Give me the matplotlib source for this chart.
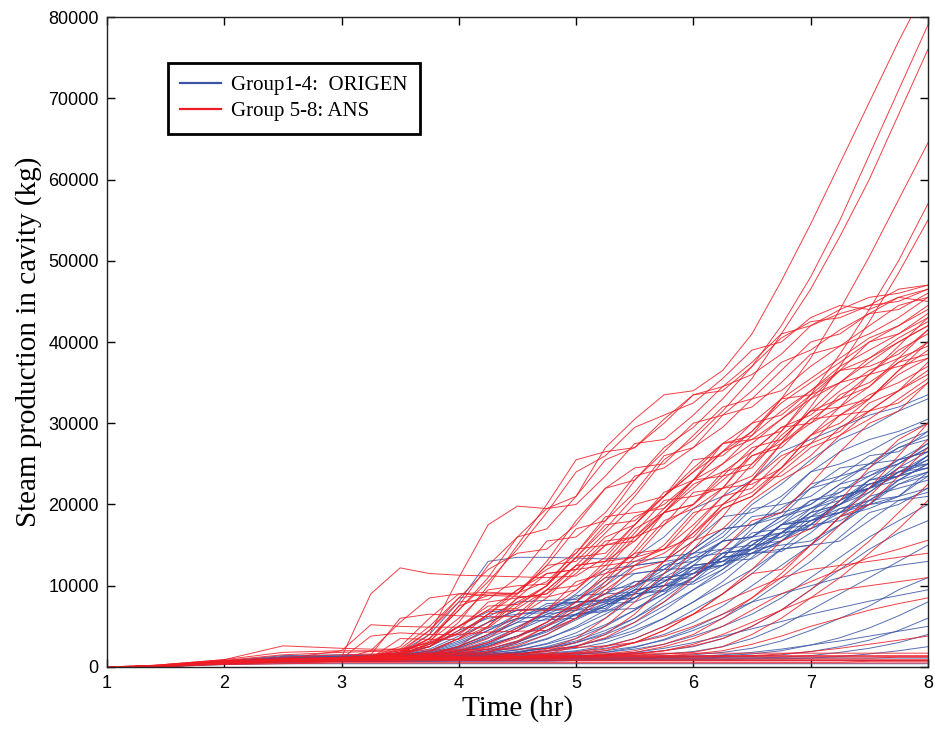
import numpy as np
import matplotlib
matplotlib.use("Agg")
import matplotlib.pyplot as plt

# time grid (hr) shared by every curve
time_hr = [1, 1.4, 2, 2.5, 3, 3.25, 3.5, 3.75, 4, 4.25, 4.5, 4.75, 5, 5.25,
           5.5, 5.75, 6, 6.25, 6.5, 6.75, 7, 7.25, 7.5, 7.75, 8]

# steam production, thousands of kg
ans_curves = [
    [0, 0.1, 0.7, 0.9, 1.0, 1.1, 1.5, 4.0, 11.0, 17.5, 19.8, 19.5, 21.0, 27.0, 30.5, 33.5, 34.0, 36.5, 41.0, 47.5, 54.5, 62.0, 69.5, 77.0, 84.0],
    [0, 0.1, 0.6, 0.9, 1.0, 1.1, 1.3, 1.8, 3.5, 6.5, 9.5, 12.0, 14.0, 18.0, 23.0, 27.0, 29.5, 33.0, 37.0, 42.0, 48.0, 55.0, 63.0, 71.0, 79.0],
    [0, 0.1, 0.7, 0.8, 1.0, 1.0, 1.2, 1.5, 2.5, 5.0, 8.0, 10.0, 13.5, 17.0, 21.0, 25.5, 28.0, 31.5, 35.5, 41.0, 46.5, 53.0, 60.0, 68.0, 76.0],
    [0, 0.1, 0.5, 0.8, 0.9, 1.0, 1.1, 1.2, 1.3, 1.8, 3.0, 5.0, 7.0, 10.5, 14.5, 19.0, 22.0, 25.0, 28.5, 33.0, 38.0, 44.0, 50.5, 57.5, 64.5],
    [0, 0.1, 0.6, 0.8, 0.9, 0.9, 1.0, 1.0, 1.1, 1.2, 1.5, 2.2, 3.5, 6.0, 9.0, 13.0, 17.0, 21.0, 25.0, 29.0, 33.5, 38.5, 44.0, 50.0, 57.0],
    [0, 0.0, 0.5, 0.7, 0.8, 0.9, 0.9, 1.0, 1.0, 1.1, 1.2, 1.6, 2.5, 4.0, 6.5, 10.0, 14.5, 18.5, 23.0, 27.5, 32.0, 37.0, 42.5, 48.5, 55.0],
    [0, 0.1, 0.7, 1.0, 1.2, 9.0, 12.2, 11.5, 11.3, 11.2, 11.1, 11.0, 11.2, 13.5, 17.5, 21.0, 24.0, 27.5, 30.0, 33.0, 35.5, 38.0, 40.5, 42.0, 44.0],
    [0, 0.2, 0.9, 2.6, 2.3, 2.2, 2.2, 2.5, 4.5, 8.0, 8.5, 9.0, 12.5, 16.0, 17.5, 21.0, 24.0, 26.5, 29.0, 32.5, 35.0, 37.5, 40.0, 42.0, 44.5],
    [0, 0.1, 0.7, 1.0, 2.0, 5.2, 5.0, 4.9, 4.9, 4.8, 7.5, 10.0, 13.5, 14.0, 17.5, 21.5, 23.0, 26.5, 30.0, 31.0, 34.0, 37.0, 39.0, 41.0, 43.0],
    [0, 0.1, 0.6, 0.9, 1.1, 1.5, 6.0, 6.5, 6.3, 6.2, 6.2, 8.5, 12.0, 15.5, 16.0, 19.5, 23.0, 25.0, 27.5, 30.5, 33.0, 35.0, 37.5, 40.0, 42.0],
    [0, 0.1, 0.7, 0.9, 1.1, 1.3, 2.5, 6.0, 9.0, 9.2, 9.0, 13.0, 18.0, 22.0, 23.0, 26.5, 30.0, 31.0, 34.0, 37.5, 39.0, 41.5, 43.5, 44.0, 46.0],
    [0, 0.1, 0.6, 0.9, 1.0, 1.2, 1.8, 4.5, 8.5, 12.0, 14.0, 14.5, 17.5, 22.0, 24.5, 25.0, 28.5, 32.0, 33.0, 36.5, 40.0, 41.0, 43.5, 45.5, 45.0],
    [0, 0.1, 0.7, 0.9, 1.0, 1.1, 1.6, 3.5, 7.0, 11.0, 16.0, 19.5, 20.0, 23.5, 27.5, 28.0, 31.0, 34.5, 36.0, 38.5, 42.0, 43.5, 44.5, 46.5, 47.0],
    [0, 0.1, 0.6, 0.8, 1.0, 1.1, 1.4, 2.5, 5.5, 10.0, 15.0, 20.0, 25.5, 26.5, 27.0, 30.5, 33.5, 34.0, 37.0, 40.5, 42.5, 43.0, 44.5, 45.0, 46.5],
    [0, 0.1, 0.7, 0.9, 1.1, 1.2, 1.5, 2.5, 5.0, 7.0, 7.2, 9.5, 12.5, 13.0, 15.5, 19.0, 20.0, 23.0, 26.0, 27.0, 30.5, 33.0, 34.5, 37.5, 40.0],
    [0, 0.1, 0.6, 0.9, 1.0, 1.1, 1.3, 1.6, 2.2, 3.5, 6.0, 9.5, 10.0, 12.0, 16.0, 17.5, 20.0, 24.0, 25.0, 28.0, 31.5, 33.0, 36.0, 39.0, 41.0],
    [0, 0.1, 0.6, 0.8, 1.0, 1.0, 1.2, 1.5, 2.0, 3.0, 4.5, 7.0, 10.5, 11.5, 14.0, 18.0, 19.5, 22.0, 26.0, 27.5, 30.0, 33.5, 35.0, 37.5, 38.5],
    [0, 0.1, 0.7, 0.9, 1.0, 1.1, 1.2, 1.4, 1.8, 2.5, 3.8, 5.5, 8.0, 11.5, 12.5, 15.0, 19.0, 20.0, 23.0, 26.0, 27.5, 31.0, 33.5, 35.0, 37.0],
    [0, 0.1, 0.5, 0.8, 0.9, 1.0, 1.1, 1.3, 1.6, 2.2, 3.2, 5.0, 7.5, 9.0, 12.5, 14.0, 16.5, 20.0, 21.5, 24.5, 27.5, 29.0, 32.5, 34.0, 36.0],
    [0, 0.1, 0.6, 0.9, 1.0, 1.1, 1.2, 1.3, 1.5, 1.9, 2.6, 4.0, 6.0, 8.5, 10.0, 13.0, 15.5, 17.0, 20.5, 23.0, 25.0, 28.5, 30.5, 33.0, 35.5],
    [0, 0.1, 0.7, 0.9, 1.1, 1.3, 1.8, 3.5, 7.5, 8.8, 9.0, 12.5, 17.0, 18.0, 21.5, 26.0, 27.0, 29.5, 33.0, 34.0, 37.0, 39.5, 41.0, 43.0, 45.5],
    [0, 0.1, 0.6, 0.9, 1.0, 3.8, 4.2, 4.0, 4.0, 6.5, 9.0, 12.5, 13.0, 16.5, 20.0, 21.0, 24.5, 27.5, 28.5, 31.5, 34.0, 36.5, 38.0, 40.5, 42.5],
    [0, 0.1, 0.7, 0.9, 1.0, 1.1, 3.5, 3.4, 3.4, 5.0, 8.5, 9.0, 11.5, 15.0, 16.0, 19.0, 22.5, 24.0, 26.5, 29.5, 31.0, 34.0, 36.5, 38.0, 41.5],
    [0, 0.1, 0.6, 0.9, 1.0, 1.1, 1.4, 3.0, 7.5, 12.5, 16.0, 17.0, 21.0, 25.5, 27.0, 30.0, 33.5, 34.5, 37.5, 41.0, 42.0, 44.0, 45.5, 46.0, 47.0],
    [0, 0.1, 0.6, 0.8, 1.0, 1.2, 1.6, 3.5, 7.0, 10.5, 14.5, 19.0, 24.0, 26.0, 29.5, 31.0, 32.5, 35.5, 39.0, 40.0, 43.0, 44.5, 44.0, 45.5, 46.5],
    [0, 0.1, 0.5, 0.8, 0.9, 0.9, 1.0, 1.0, 1.1, 1.1, 1.2, 1.3, 1.4, 1.6, 2.0, 2.8, 4.0, 6.0, 8.5, 11.5, 15.0, 18.5, 22.0, 26.0, 30.0],
    [0, 0.1, 0.5, 0.7, 0.8, 0.9, 0.9, 1.0, 1.0, 1.1, 1.1, 1.2, 1.3, 1.4, 1.6, 2.0, 2.6, 3.5, 5.0, 7.0, 9.5, 12.5, 15.5, 19.0, 22.5],
    [0, 0.1, 0.6, 0.8, 0.9, 0.9, 1.0, 1.0, 1.1, 1.1, 1.2, 1.2, 1.3, 1.5, 1.8, 2.5, 3.5, 5.0, 7.0, 9.0, 10.5, 12.0, 13.5, 14.5, 15.6],
    [0, 0.1, 0.5, 0.8, 0.9, 1.0, 1.0, 1.1, 1.1, 1.2, 1.3, 1.5, 1.8, 2.5, 3.5, 5.0, 6.5, 8.0, 9.5, 11.0, 12.0, 12.5, 13.0, 13.5, 14.0],
    [0, 0.1, 0.6, 0.8, 0.9, 1.0, 1.0, 1.0, 1.1, 1.1, 1.2, 1.2, 1.3, 1.4, 1.6, 2.0, 2.8, 4.0, 5.5, 7.0, 8.5, 9.5, 10.0, 10.5, 11.0],
    [0, 0.1, 0.5, 0.7, 0.8, 0.9, 0.9, 1.0, 1.0, 1.0, 1.1, 1.1, 1.2, 1.2, 1.3, 1.4, 1.6, 2.0, 2.8, 3.8, 5.0, 6.0, 7.0, 7.8, 8.5],
    [0, 0.1, 0.5, 0.7, 0.8, 0.8, 0.9, 0.9, 0.9, 1.0, 1.0, 1.0, 1.1, 1.1, 1.1, 1.2, 1.2, 1.3, 1.4, 1.6, 1.9, 2.3, 2.8, 3.3, 3.8],
    [0, 0.1, 0.7, 0.9, 1.0, 1.1, 1.1, 1.2, 1.2, 1.2, 1.2, 1.3, 1.3, 1.3, 1.3, 1.3, 1.3, 1.3, 1.3, 1.3, 1.3, 1.3, 1.3, 1.3, 1.3],
    [0, 0.1, 0.5, 0.7, 0.8, 0.8, 0.8, 0.9, 0.9, 0.9, 0.9, 0.9, 0.9, 0.9, 0.9, 0.9, 0.9, 0.9, 0.9, 0.9, 0.9, 0.9, 0.9, 0.9, 0.9],
    [0, 0.0, 0.4, 0.5, 0.6, 0.6, 0.6, 0.6, 0.6, 0.6, 0.6, 0.6, 0.6, 0.6, 0.6, 0.6, 0.6, 0.6, 0.6, 0.6, 0.6, 0.6, 0.7, 0.7, 0.7],
    [0, 0.1, 0.6, 0.8, 0.9, 1.0, 1.0, 1.1, 1.1, 1.2, 1.2, 1.3, 1.3, 1.4, 1.5, 1.6, 1.8, 2.5, 4.0, 6.0, 8.5, 11.0, 14.0, 17.0, 20.5],
    [0, 0.1, 0.6, 0.9, 1.0, 1.0, 1.1, 1.1, 1.2, 1.2, 1.3, 1.4, 1.6, 2.0, 3.0, 4.5, 6.5, 9.0, 11.5, 12.0, 15.0, 18.5, 20.0, 23.5, 27.0],
    [0, 0.1, 0.7, 0.9, 1.1, 1.4, 2.0, 3.0, 4.0, 4.3, 4.4, 4.5, 6.0, 9.5, 12.0, 13.0, 16.5, 19.5, 21.0, 24.0, 27.0, 28.5, 31.5, 34.0, 36.5],
    [0, 0.1, 0.6, 0.9, 1.0, 1.2, 1.6, 2.8, 4.2, 6.5, 7.0, 7.0, 7.2, 10.0, 13.5, 14.5, 17.5, 21.0, 22.0, 25.5, 28.5, 30.0, 33.0, 36.0, 38.0],
    [0, 0.2, 0.9, 1.8, 2.0, 2.0, 2.2, 3.0, 5.0, 7.0, 9.5, 11.5, 12.0, 15.0, 18.5, 20.0, 23.0, 26.5, 28.0, 30.5, 33.5, 35.0, 38.0, 40.0, 42.0],
    [0, 0.1, 0.6, 0.8, 0.9, 1.0, 1.0, 1.1, 1.2, 1.3, 1.5, 2.0, 3.0, 5.0, 8.0, 11.5, 15.5, 19.5, 21.0, 24.5, 28.5, 32.0, 33.0, 36.5, 40.0],
    [0, 0.1, 0.6, 0.9, 1.0, 1.0, 1.1, 1.2, 1.3, 1.4, 1.6, 1.9, 2.5, 3.6, 5.5, 8.0, 11.0, 14.5, 18.0, 19.0, 22.5, 26.5, 30.0, 31.5, 35.0],
    [0, 0.1, 0.5, 0.8, 0.9, 1.0, 1.0, 1.1, 1.1, 1.2, 1.3, 1.4, 1.7, 2.2, 3.0, 4.5, 6.5, 9.0, 12.0, 15.5, 17.0, 20.5, 24.5, 28.0, 30.0],
    [0, 0.1, 0.7, 0.9, 1.0, 2.0, 5.5, 8.5, 9.0, 8.8, 8.7, 8.6, 9.5, 13.0, 17.0, 19.0, 20.0, 23.5, 27.0, 28.0, 31.5, 35.0, 36.0, 39.5, 43.0],
    [0, 0.2, 0.8, 1.2, 1.5, 1.6, 1.6, 1.7, 1.7, 1.7, 1.7, 1.7, 1.7, 1.7, 1.7, 1.7, 1.7, 1.7, 1.7, 1.7, 1.7, 1.7, 1.7, 1.7, 1.7],
    [0, 0.1, 0.6, 1.0, 1.2, 1.2, 1.3, 1.4, 1.5, 1.5, 1.5, 1.5, 1.4, 1.4, 1.4, 1.4, 1.4, 1.4, 1.4, 1.4, 1.4, 1.4, 1.4, 1.4, 1.4],
    [0, 0.1, 0.5, 0.8, 1.0, 1.0, 1.0, 1.1, 1.1, 1.1, 1.1, 1.1, 1.1, 1.1, 1.1, 1.1, 1.1, 1.1, 1.1, 1.1, 1.1, 1.1, 1.1, 1.2, 1.2],
    [0, 0.0, 0.4, 0.6, 0.7, 0.7, 0.7, 0.8, 0.8, 0.8, 0.8, 0.8, 0.8, 0.8, 0.8, 0.8, 0.8, 0.8, 0.8, 0.8, 0.8, 0.8, 0.8, 0.8, 0.8],
    [0, 0.0, 0.3, 0.4, 0.5, 0.5, 0.5, 0.5, 0.5, 0.5, 0.5, 0.5, 0.5, 0.5, 0.5, 0.5, 0.5, 0.5, 0.5, 0.5, 0.5, 0.5, 0.5, 0.5, 0.5],
    [0, 0.1, 0.8, 1.5, 1.8, 1.9, 2.0, 2.1, 2.1, 2.2, 2.2, 2.3, 2.4, 2.6, 3.0, 3.8, 5.0, 6.5, 8.5, 11.0, 14.0, 17.5, 21.0, 24.5, 28.0],
    [0, 0.1, 0.7, 1.0, 1.1, 1.3, 2.0, 4.5, 8.0, 8.3, 11.0, 15.5, 16.0, 19.0, 23.5, 24.5, 27.0, 31.0, 32.0, 35.0, 38.5, 39.5, 42.0, 44.5, 45.5],
    [0, 0.1, 0.6, 0.9, 1.0, 1.2, 1.7, 3.2, 6.0, 9.5, 10.0, 10.2, 13.5, 17.5, 18.0, 21.0, 25.5, 26.0, 29.0, 33.0, 33.5, 36.5, 40.0, 41.0, 43.5],
    [0, 0.1, 0.7, 0.9, 1.1, 1.3, 2.2, 5.0, 8.5, 9.0, 9.1, 10.5, 14.0, 18.5, 19.0, 19.5, 23.0, 27.5, 28.0, 29.0, 33.0, 36.5, 37.0, 38.5, 41.5],
    [0, 0.1, 0.6, 0.9, 1.0, 1.1, 1.5, 2.8, 5.0, 7.5, 7.7, 10.0, 14.5, 15.0, 15.5, 19.0, 23.0, 23.5, 24.5, 28.5, 31.5, 32.0, 34.5, 38.0, 39.5],
    [0, 0.1, 0.7, 0.9, 1.0, 1.1, 1.3, 2.0, 3.5, 5.5, 8.5, 11.5, 12.0, 12.5, 16.5, 20.5, 21.0, 22.0, 26.5, 29.5, 30.0, 32.0, 36.0, 37.0, 38.0],
    [0, 0.1, 0.6, 0.8, 1.0, 1.1, 1.2, 1.6, 2.5, 4.0, 6.5, 9.5, 12.5, 13.0, 13.5, 17.5, 21.5, 22.0, 23.5, 27.5, 30.5, 31.0, 33.0, 36.5, 39.0],
    [0, 0.1, 0.7, 0.9, 1.0, 1.1, 1.2, 1.5, 2.0, 3.0, 4.8, 7.0, 9.5, 12.5, 13.0, 14.5, 18.5, 22.0, 22.5, 24.5, 28.5, 31.0, 31.5, 34.0, 37.5],
    [0, 0.1, 0.6, 0.8, 0.9, 1.0, 1.1, 1.3, 1.7, 2.4, 3.6, 5.5, 8.0, 11.0, 14.0, 14.5, 16.0, 20.0, 23.0, 23.5, 26.0, 29.5, 31.5, 32.5, 35.0],
]

origen_curves = [
    [0, 0.1, 0.7, 1.2, 1.3, 1.4, 1.8, 4.0, 8.0, 13.0, 13.5, 13.5, 13.4, 13.3, 13.5, 16.0, 19.5, 21.0, 23.0, 26.5, 28.0, 29.5, 31.0, 32.0, 33.5],
    [0, 0.1, 0.7, 1.4, 1.5, 1.5, 1.7, 2.5, 4.5, 6.0, 6.5, 6.7, 9.0, 12.0, 12.5, 13.0, 15.5, 18.5, 19.0, 21.0, 24.0, 25.0, 26.5, 28.5, 30.0],
    [0, 0.1, 0.6, 1.3, 1.4, 1.4, 1.5, 2.0, 3.5, 5.5, 7.0, 7.2, 7.3, 9.0, 11.5, 12.0, 14.5, 17.0, 17.5, 19.5, 22.0, 23.0, 25.0, 27.0, 28.0],
    [0, 0.1, 0.7, 1.0, 1.2, 1.3, 1.4, 1.8, 2.8, 4.5, 6.5, 7.0, 7.0, 8.0, 10.5, 11.0, 13.0, 15.5, 16.0, 18.0, 20.5, 21.5, 23.5, 25.5, 26.5],
    [0, 0.1, 0.6, 0.9, 1.1, 1.2, 1.3, 1.6, 2.3, 3.8, 5.5, 7.5, 8.0, 8.2, 10.0, 12.5, 13.0, 14.5, 17.5, 18.5, 20.0, 22.5, 23.5, 25.0, 27.5],
    [0, 0.1, 0.7, 1.1, 1.3, 1.3, 1.4, 1.7, 2.5, 4.0, 5.5, 5.8, 6.0, 7.5, 9.5, 10.0, 11.5, 14.0, 14.5, 16.5, 19.0, 20.0, 22.0, 24.0, 25.0],
    [0, 0.1, 0.6, 0.9, 1.0, 1.1, 1.2, 1.5, 2.0, 3.0, 4.5, 6.0, 6.5, 6.8, 8.5, 11.0, 11.5, 13.0, 15.5, 16.5, 18.5, 21.0, 22.0, 23.5, 24.5],
    [0, 0.1, 0.7, 1.0, 1.2, 1.2, 1.3, 1.5, 1.9, 2.6, 3.8, 5.5, 7.5, 8.0, 8.5, 10.5, 12.5, 13.0, 15.0, 17.5, 18.5, 20.0, 22.5, 23.5, 25.5],
    [0, 0.1, 0.6, 0.9, 1.1, 1.1, 1.2, 1.4, 1.7, 2.2, 3.2, 4.5, 6.5, 8.5, 9.0, 9.5, 11.5, 14.0, 14.5, 16.0, 19.0, 20.0, 21.5, 24.0, 26.0],
    [0, 0.1, 0.7, 1.0, 1.1, 1.2, 1.3, 1.4, 1.6, 2.0, 2.8, 4.0, 5.8, 7.5, 9.0, 9.3, 11.0, 13.5, 14.0, 15.5, 18.0, 19.5, 20.5, 22.5, 23.5],
    [0, 0.1, 0.6, 0.9, 1.0, 1.1, 1.2, 1.3, 1.5, 1.8, 2.4, 3.4, 5.0, 7.0, 9.5, 10.0, 10.5, 12.5, 15.5, 16.0, 17.5, 20.5, 22.0, 23.0, 25.0],
    [0, 0.1, 0.7, 1.0, 1.1, 1.2, 1.2, 1.3, 1.4, 1.7, 2.1, 2.9, 4.2, 6.0, 8.5, 11.0, 11.5, 12.5, 15.0, 17.5, 18.0, 20.0, 23.0, 24.0, 25.5],
    [0, 0.1, 0.5, 0.9, 1.0, 1.0, 1.1, 1.2, 1.3, 1.5, 1.9, 2.5, 3.5, 5.0, 7.0, 9.5, 12.5, 13.0, 14.5, 17.5, 19.5, 20.5, 23.0, 25.5, 26.5],
    [0, 0.1, 0.7, 1.0, 1.1, 1.1, 1.2, 1.3, 1.4, 1.6, 1.8, 2.3, 3.0, 4.2, 6.0, 8.5, 11.0, 14.0, 14.5, 16.5, 19.5, 21.0, 22.0, 25.0, 27.0],
    [0, 0.1, 0.6, 0.9, 1.0, 1.1, 1.1, 1.2, 1.3, 1.4, 1.7, 2.0, 2.6, 3.5, 5.0, 7.0, 9.5, 12.0, 15.0, 15.5, 17.5, 20.5, 22.5, 23.5, 26.0],
    [0, 0.1, 0.7, 1.0, 1.1, 1.2, 1.2, 1.3, 1.3, 1.5, 1.6, 1.9, 2.3, 3.0, 4.2, 6.0, 8.0, 10.5, 13.5, 16.5, 17.0, 19.0, 22.0, 24.5, 25.0],
    [0, 0.1, 0.6, 0.9, 1.0, 1.0, 1.1, 1.2, 1.2, 1.3, 1.5, 1.7, 2.0, 2.6, 3.5, 5.0, 7.0, 9.0, 11.5, 14.5, 17.5, 18.0, 20.0, 23.0, 25.0],
    [0, 0.1, 0.7, 1.0, 1.1, 1.1, 1.2, 1.2, 1.3, 1.4, 1.5, 1.6, 1.9, 2.3, 3.0, 4.0, 5.5, 7.5, 10.0, 12.5, 15.0, 18.5, 19.5, 21.0, 24.0],
    [0, 0.1, 0.6, 0.9, 1.0, 1.0, 1.1, 1.1, 1.2, 1.3, 1.4, 1.5, 1.7, 2.0, 2.5, 3.3, 4.5, 6.0, 8.0, 10.5, 13.0, 16.0, 19.0, 20.0, 22.0],
    [0, 0.1, 0.7, 0.9, 1.0, 1.1, 1.1, 1.2, 1.2, 1.3, 1.3, 1.4, 1.6, 1.8, 2.2, 2.8, 3.8, 5.0, 6.5, 8.5, 11.0, 13.5, 16.0, 18.0, 20.0],
    [0, 0.1, 0.6, 0.9, 1.0, 1.1, 1.2, 1.4, 1.8, 2.8, 4.5, 6.5, 7.0, 7.2, 9.5, 12.5, 14.0, 16.5, 20.0, 22.5, 25.5, 28.0, 29.5, 31.5, 33.0],
    [0, 0.1, 0.7, 1.0, 1.1, 1.1, 1.2, 1.3, 1.5, 2.0, 3.0, 4.5, 6.5, 7.0, 7.2, 9.0, 12.5, 15.5, 16.0, 18.5, 22.0, 24.5, 25.0, 27.5, 29.0],
    [0, 0.1, 0.5, 0.8, 0.9, 0.9, 1.0, 1.0, 1.0, 1.1, 1.1, 1.2, 1.2, 1.3, 1.4, 1.6, 1.9, 2.5, 3.5, 5.0, 7.0, 9.0, 11.0, 13.0, 15.0],
    [0, 0.1, 0.5, 0.8, 0.9, 0.9, 0.9, 1.0, 1.0, 1.0, 1.1, 1.1, 1.1, 1.2, 1.2, 1.3, 1.5, 1.8, 2.3, 3.2, 4.5, 6.0, 7.5, 9.5, 11.0],
    [0, 0.1, 0.5, 0.7, 0.8, 0.8, 0.9, 0.9, 0.9, 1.0, 1.0, 1.0, 1.0, 1.1, 1.1, 1.2, 1.3, 1.4, 1.6, 2.0, 2.7, 3.6, 4.8, 6.3, 8.0],
    [0, 0.1, 0.4, 0.7, 0.8, 0.8, 0.8, 0.9, 0.9, 0.9, 0.9, 1.0, 1.0, 1.0, 1.0, 1.1, 1.1, 1.2, 1.3, 1.5, 1.9, 2.5, 3.3, 4.5, 6.0],
    [0, 0.0, 0.4, 0.6, 0.7, 0.7, 0.8, 0.8, 0.8, 0.8, 0.9, 0.9, 0.9, 0.9, 1.0, 1.0, 1.0, 1.1, 1.1, 1.2, 1.4, 1.8, 2.3, 3.0, 4.0],
    [0, 0.0, 0.4, 0.6, 0.7, 0.7, 0.7, 0.7, 0.8, 0.8, 0.8, 0.8, 0.8, 0.9, 0.9, 0.9, 0.9, 0.9, 1.0, 1.0, 1.1, 1.3, 1.6, 2.0, 2.5],
    [0, 0.0, 0.4, 0.6, 0.7, 0.7, 0.7, 0.7, 0.7, 0.7, 0.7, 0.7, 0.8, 0.8, 0.8, 0.8, 0.8, 0.8, 0.8, 0.8, 0.8, 0.8, 0.8, 0.8, 0.8],
    [0, 0.0, 0.3, 0.4, 0.4, 0.4, 0.4, 0.4, 0.4, 0.4, 0.4, 0.4, 0.4, 0.4, 0.4, 0.4, 0.4, 0.4, 0.4, 0.4, 0.4, 0.4, 0.4, 0.4, 0.4],
    [0, 0.1, 0.6, 0.9, 1.0, 1.0, 1.1, 1.1, 1.2, 1.2, 1.3, 1.3, 1.4, 1.5, 1.7, 2.0, 2.5, 3.5, 5.0, 7.0, 9.5, 12.0, 14.5, 16.5, 18.0],
    [0, 0.1, 0.6, 0.8, 0.9, 1.0, 1.0, 1.1, 1.1, 1.2, 1.2, 1.3, 1.5, 1.8, 2.4, 3.4, 4.8, 6.5, 8.0, 9.0, 10.0, 11.0, 11.8, 12.5, 13.0],
    [0, 0.1, 0.7, 1.1, 1.2, 1.2, 1.3, 1.6, 2.4, 3.6, 5.0, 6.5, 8.0, 8.3, 8.5, 10.0, 12.0, 12.5, 14.0, 16.5, 17.0, 18.5, 21.0, 22.0, 23.0],
    [0, 0.1, 0.6, 1.0, 1.1, 1.2, 1.4, 2.0, 3.2, 4.8, 6.0, 6.2, 7.5, 9.5, 10.0, 11.5, 13.5, 14.0, 16.0, 18.5, 19.5, 21.5, 24.0, 25.0, 27.0],
    [0, 0.1, 0.7, 1.0, 1.1, 1.2, 1.3, 1.5, 2.0, 2.8, 3.8, 5.0, 6.5, 7.8, 8.0, 9.5, 12.0, 13.5, 14.0, 15.5, 18.0, 19.0, 20.5, 23.0, 24.0],
    [0, 0.1, 0.6, 1.0, 1.2, 1.3, 1.5, 2.2, 3.8, 5.5, 7.0, 7.2, 8.5, 11.0, 11.5, 12.0, 14.5, 17.0, 17.5, 19.0, 22.5, 23.5, 24.5, 27.0, 28.5],
    [0, 0.1, 0.7, 1.1, 1.3, 1.3, 1.6, 2.8, 5.0, 6.8, 7.0, 7.1, 8.0, 10.5, 13.0, 13.5, 14.0, 16.0, 19.5, 20.0, 21.0, 23.5, 26.0, 26.5, 29.0],
    [0, 0.1, 0.6, 0.9, 1.1, 1.2, 1.3, 1.7, 2.6, 4.0, 5.8, 7.8, 8.0, 8.1, 9.0, 11.5, 14.0, 14.5, 15.0, 17.5, 20.5, 21.0, 22.0, 24.5, 26.5],
    [0, 0.1, 0.7, 1.0, 1.1, 1.2, 1.3, 1.5, 2.1, 3.2, 4.8, 6.8, 8.8, 9.0, 9.2, 10.5, 13.0, 15.5, 16.0, 16.5, 19.0, 22.0, 22.5, 23.5, 26.0],
    [0, 0.1, 0.6, 0.9, 1.0, 1.1, 1.2, 1.4, 1.8, 2.6, 3.8, 5.2, 7.0, 9.0, 10.5, 10.7, 11.0, 13.5, 16.5, 17.0, 17.5, 20.0, 23.0, 23.5, 24.5],
    [0, 0.1, 0.7, 1.0, 1.1, 1.1, 1.2, 1.3, 1.6, 2.2, 3.1, 4.3, 6.0, 7.8, 9.8, 12.0, 12.2, 12.5, 14.5, 17.5, 18.0, 19.0, 21.5, 24.0, 24.5],
    [0, 0.1, 0.5, 0.9, 1.0, 1.0, 1.1, 1.2, 1.4, 1.8, 2.5, 3.5, 4.8, 6.5, 8.5, 10.5, 12.5, 13.0, 13.3, 15.5, 18.5, 19.0, 20.0, 22.5, 24.0],
    [0, 0.1, 0.7, 1.0, 1.1, 1.1, 1.2, 1.3, 1.5, 1.7, 2.1, 2.8, 3.8, 5.2, 7.0, 9.0, 11.0, 13.5, 14.0, 14.2, 16.5, 19.5, 20.0, 21.0, 23.5],
    [0, 0.1, 0.6, 0.9, 1.0, 1.0, 1.1, 1.2, 1.3, 1.5, 1.8, 2.3, 3.0, 4.0, 5.5, 7.5, 9.5, 11.5, 14.0, 14.5, 15.0, 17.5, 20.5, 21.0, 22.0],
    [0, 0.1, 0.7, 1.0, 1.1, 1.1, 1.2, 1.2, 1.3, 1.4, 1.6, 2.0, 2.6, 3.4, 4.5, 6.0, 8.0, 10.0, 12.0, 14.5, 15.0, 15.5, 18.0, 20.5, 21.0],
    [0, 0.1, 0.6, 1.2, 1.3, 1.4, 1.6, 2.5, 4.2, 6.2, 8.0, 8.2, 8.3, 10.0, 12.5, 13.0, 13.5, 15.5, 18.5, 19.0, 20.0, 22.5, 25.0, 25.5, 27.5],
    [0, 0.1, 0.7, 1.0, 1.2, 1.3, 1.4, 1.9, 3.0, 4.5, 6.0, 6.2, 6.3, 7.5, 9.5, 10.0, 10.2, 12.0, 14.5, 15.0, 15.5, 17.5, 20.0, 20.5, 21.5],
    [0, 0.1, 0.6, 0.9, 1.0, 1.1, 1.1, 1.2, 1.3, 1.5, 1.8, 2.4, 3.2, 4.5, 6.0, 8.0, 10.5, 13.5, 17.0, 20.5, 24.0, 26.5, 28.0, 29.0, 30.5],
    [0, 0.1, 0.6, 0.9, 1.0, 1.0, 1.0, 1.0, 1.1, 1.1, 1.1, 1.1, 1.1, 1.1, 1.1, 1.1, 1.1, 1.1, 1.1, 1.1, 1.1, 1.1, 1.1, 1.1, 1.1],
    [0, 0.1, 0.5, 0.8, 0.9, 0.9, 0.9, 0.9, 1.0, 1.0, 1.0, 1.0, 1.1, 1.1, 1.1, 1.2, 1.3, 1.5, 1.8, 2.2, 2.7, 3.2, 3.8, 4.4, 5.0],
    [0, 0.1, 0.5, 0.8, 0.9, 0.9, 1.0, 1.0, 1.0, 1.1, 1.1, 1.2, 1.3, 1.5, 1.8, 2.3, 3.0, 3.8, 4.7, 5.6, 6.5, 7.3, 8.1, 8.8, 9.5],
]

x_ticks = [1, 2, 3, 4, 5, 6, 7, 8]
y_ticks = [0, 10000, 20000, 30000, 40000, 50000, 60000, 70000, 80000]

blue = "#3a55a6"
red = "#ee1c25"

fig = plt.figure(figsize=(9.35, 7.34), dpi=100)
ax = fig.add_axes([0.1144, 0.0913, 0.878, 0.8855])

t = np.array(time_hr)
for i, c in enumerate(origen_curves):
    ax.plot(t, np.array(c) * 1000, color=blue, lw=0.7, alpha=0.85,
            label="Group1-4:  ORIGEN" if i == 0 else None)
for i, c in enumerate(ans_curves):
    ax.plot(t, np.array(c) * 1000, color=red, lw=0.7, alpha=0.85,
            label="Group 5-8: ANS" if i == 0 else None)

ax.set_xlim(1, 8)
ax.set_ylim(0, 80000)
ax.set_xticks(x_ticks)
ax.set_yticks(y_ticks)
ax.tick_params(direction="in", top=True, right=True, length=6, width=1,
               labelsize=13, pad=6)
for lab in ax.get_xticklabels() + ax.get_yticklabels():
    lab.set_fontfamily("Liberation Sans")
for s in ax.spines.values():
    s.set_linewidth(1)
    s.set_color("#222222")

ax.set_xlabel("Time (hr)", fontfamily="Liberation Serif", fontsize=21, labelpad=2)
ax.set_ylabel("Steam production in cavity (kg)", fontfamily="Liberation Serif",
              fontsize=21, labelpad=4)

leg = ax.legend(loc="upper left", bbox_to_anchor=(0.074, 0.929),
                borderaxespad=0, fancybox=False, framealpha=1,
                prop={"family": "Liberation Serif", "size": 15},
                handlelength=1.95, handletextpad=0.5, borderpad=0.6,
                labelspacing=0.3)
leg.get_frame().set_edgecolor("black")
leg.get_frame().set_linewidth(2)
for h in leg.get_lines():
    h.set_linewidth(1.6)
    h.set_alpha(1)

fig.savefig("out.png", dpi=100)
